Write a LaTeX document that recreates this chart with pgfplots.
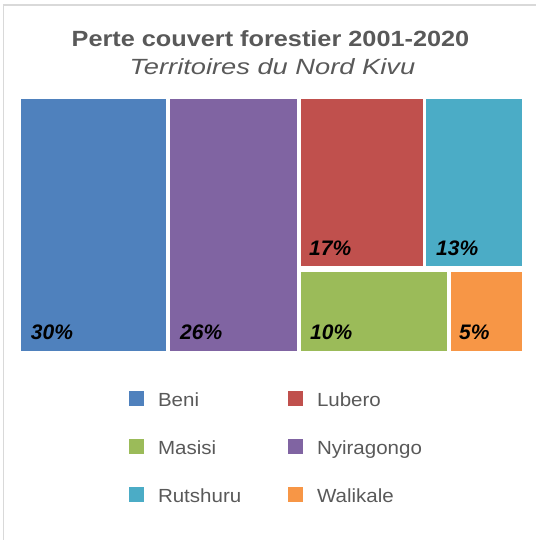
\documentclass[border=0pt]{standalone}
\usepackage{pgfplots}
\pgfplotsset{compat=1.18}
\usepackage{fontspec}
\setmainfont{Liberation Sans}
\usepackage{graphicx}
\definecolor{cBeni}{HTML}{4F81BD}
\definecolor{cNyir}{HTML}{8064A2}
\definecolor{cLub}{HTML}{C0504D}
\definecolor{cRut}{HTML}{4BACC6}
\definecolor{cMas}{HTML}{9BBB59}
\definecolor{cWal}{HTML}{F79646}
\definecolor{txtgray}{HTML}{595959}
\definecolor{framegray}{HTML}{D9D9D9}
\newcommand{\legtxt}[1]{\makebox[116pt][l]{\scalebox{1.08}[1]{#1}}}
\begin{document}
\begin{tikzpicture}
\begin{axis}[
  scale only axis, width=536pt, height=540pt,
  xmin=0, xmax=536, ymin=0, ymax=540, y dir=reverse,
  hide axis, clip=false,
  legend columns=2,
  legend image code/.code={\fill[#1] (0pt,0pt) rectangle (15pt,15pt);},
  legend style={draw=none, fill=none, inner sep=0pt, outer sep=0pt,
    at={(axis cs:129,391)}, anchor=north west,
    column sep=14pt, row sep=29pt,
    font=\fontsize{19}{21}\selectfont, text=txtgray,
    nodes={inner sep=0pt, outer sep=0pt, anchor=base west, text height=15pt, text depth=4pt}},
]
% treemap cells (pixel coordinates)
\addplot[fill=cBeni, draw=none] coordinates {(21,99.3) (166.3,99.3) (166.3,350.7) (21,350.7)} -- cycle;
\addlegendentry{\legtxt{Beni}}
\addplot[fill=cLub, draw=none] coordinates {(301,99.3) (422.7,99.3) (422.7,266) (301,266)} -- cycle;
\addlegendentry{\legtxt{Lubero}}
\addplot[fill=cMas, draw=none] coordinates {(301,272) (446.7,272) (446.7,350.7) (301,350.7)} -- cycle;
\addlegendentry{\legtxt{Masisi}}
\addplot[fill=cNyir, draw=none] coordinates {(170.3,99.3) (296.7,99.3) (296.7,350.7) (170.3,350.7)} -- cycle;
\addlegendentry{\legtxt{Nyiragongo}}
\addplot[fill=cRut, draw=none] coordinates {(426,99.3) (521.7,99.3) (521.7,266) (426,266)} -- cycle;
\addlegendentry{\legtxt{Rutshuru}}
\addplot[fill=cWal, draw=none] coordinates {(450.7,272) (521.7,272) (521.7,350.7) (450.7,350.7)} -- cycle;
\addlegendentry{\legtxt{Walikale}}

% frame
\draw[framegray, line width=1.5pt] (axis cs:3.5,540) -- (axis cs:3.5,5) -- (axis cs:536,5);

% title
\node[anchor=base, text=txtgray, inner sep=0pt, font=\fontsize{22}{24}\selectfont\bfseries]
  at (axis cs:270.5,46.7) {\scalebox{1.149}[1]{Perte couvert forestier 2001-2020}};
\node[anchor=base, text=txtgray, inner sep=0pt, font=\fontsize{22}{24}\selectfont\itshape]
  at (axis cs:272.5,74.3) {\scalebox{1.24}[1]{Territoires du Nord Kivu}};

% percentage labels
\begin{scope}[every node/.style={anchor=base west, inner sep=0pt, text=black, font=\fontsize{21}{23}\selectfont\bfseries\itshape}]
\node at (axis cs:30.7,339.3) {30\%};
\node at (axis cs:180,339.3) {26\%};
\node at (axis cs:309,255) {17\%};
\node at (axis cs:436,255) {13\%};
\node at (axis cs:310,339.3) {10\%};
\node at (axis cs:459,339.3) {5\%};
\end{scope}
\end{axis}
\pgfresetboundingbox
\path (current axis.south west) rectangle (current axis.north east);
\end{tikzpicture}
\end{document}
